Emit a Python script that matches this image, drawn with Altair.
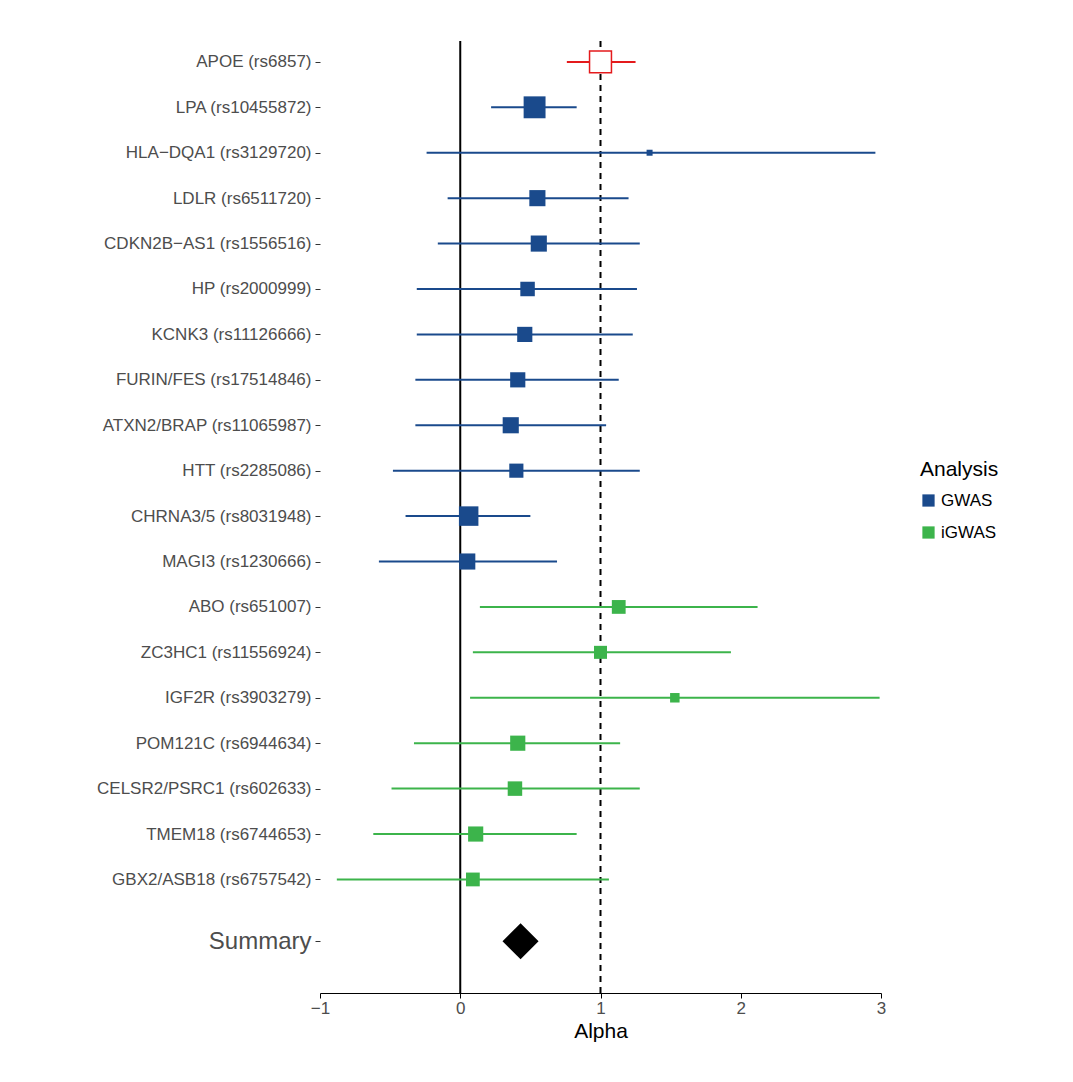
import pandas as pd
import altair as alt

genes = ["APOE (rs6857)", "LPA (rs10455872)", "HLA\u2212DQA1 (rs3129720)", "LDLR (rs6511720)",
         "CDKN2B\u2212AS1 (rs1556516)", "HP (rs2000999)", "KCNK3 (rs11126666)", "FURIN/FES (rs17514846)",
         "ATXN2/BRAP (rs11065987)", "HTT (rs2285086)", "CHRNA3/5 (rs8031948)", "MAGI3 (rs1230666)",
         "ABO (rs651007)", "ZC3HC1 (rs11556924)", "IGF2R (rs3903279)", "POM121C (rs6944634)",
         "CELSR2/PSRC1 (rs602633)", "TMEM18 (rs6744653)", "GBX2/ASB18 (rs6757542)"]
alpha = [1.0, 0.53, 1.35, 0.55, 0.56, 0.48, 0.46, 0.41, 0.36, 0.40, 0.06, 0.05,
         1.13, 1.0, 1.53, 0.41, 0.39, 0.11, 0.09]
lo = [0.76, 0.22, -0.24, -0.09, -0.16, -0.31, -0.31, -0.32, -0.32, -0.48, -0.39, -0.58,
      0.14, 0.09, 0.07, -0.33, -0.49, -0.62, -0.88]
hi = [1.25, 0.83, 2.96, 1.20, 1.28, 1.26, 1.23, 1.13, 1.04, 1.28, 0.50, 0.69,
      2.12, 1.93, 2.99, 1.14, 1.28, 0.83, 1.06]
weight = [480, 480, 36, 260, 260, 210, 230, 230, 260, 200, 380, 260,
          190, 170, 90, 230, 210, 230, 190]
analysis = ["APOE"] + ["GWAS"] * 11 + ["iGWAS"] * 7
summary_alpha = 0.43
summary_pos = 20.36

rows = list(range(1, len(genes) + 1))
df = pd.DataFrame({"row": rows, "gene": genes, "alpha": alpha, "lo": lo, "hi": hi,
                   "w": weight, "Analysis": analysis})
main = df[df.Analysis != "APOE"]
apoe = df[df.Analysis == "APOE"]

label_map = {str(r): g for r, g in zip(rows, genes)}
label_map[str(summary_pos)] = "Summary"
label_expr = "{" + ",".join(f"'{k}':'{v}'" for k, v in label_map.items()) + "}[toString(datum.value)]"

xs = alt.Scale(domain=[-1, 3], nice=False)
ys = alt.Scale(domain=[0.54, 21.5], reverse=True, nice=False, zero=False)
colors = alt.Scale(domain=["GWAS", "iGWAS"], range=["#1a4a8c", "#3cb44b"])

yaxis = alt.Axis(values=rows + [summary_pos], labelExpr=label_expr, title=None, grid=False,
                 domain=False, tickColor="#333", labelColor="#4d4d4d", labelPadding=4,
                 labelFontSize={"expr": "datum.value > 20 ? 24 : 17"}, labelLimit=400)
xaxis = alt.Axis(values=[-1, 0, 1, 2, 3], title="Alpha", grid=False, domainColor="black",
                 tickColor="black", labelColor="#4d4d4d", labelFontSize=17, titleFontSize=21,
                 titleFontWeight="normal", titleColor="black", format="d", labelFlush=False,
                 labelExpr="datum.value < 0 ? '\u2212' + abs(datum.value) : datum.value")

base = alt.Chart(main)
bars = base.mark_rule(strokeWidth=2).encode(
    x=alt.X("lo:Q", scale=xs, axis=xaxis), x2="hi:Q",
    y=alt.Y("row:Q", scale=ys, axis=yaxis),
    color=alt.Color("Analysis:N", scale=colors,
                    legend=alt.Legend(title="Analysis", titleFontSize=21, titleFontWeight="normal",
                                      labelFontSize=17, symbolSize=150, symbolType="square",
                                      titleColor="black", labelColor="black", rowPadding=14,
                                      symbolOpacity=1, symbolStrokeWidth=0, titlePadding=12,
                                      orient="none", legendX=600, legendY=418)))
pts = base.mark_square(opacity=1).encode(
    x="alpha:Q", y="row:Q",
    color=alt.Color("Analysis:N", scale=colors),
    size=alt.Size("w:Q", scale=None, legend=None))

ab = alt.Chart(apoe)
apoe_bar = ab.mark_rule(strokeWidth=2, color="#e41a1c").encode(x="lo:Q", x2="hi:Q", y="row:Q")
apoe_pt = ab.mark_square(fill="white", stroke="#e41a1c", strokeWidth=1.5, opacity=1, size=480).encode(
    x="alpha:Q", y="row:Q")

sdf = pd.DataFrame({"alpha": [summary_alpha], "row": [summary_pos]})
diamond = alt.Chart(sdf).mark_point(shape="diamond", filled=True, color="black", opacity=1,
                                    size=1300).encode(x="alpha:Q", y="row:Q")

vdf = pd.DataFrame({"v": [0, 1]})
vzero = alt.Chart(vdf[vdf.v == 0]).mark_rule(color="black", strokeWidth=2).encode(x="v:Q")
vone = alt.Chart(vdf[vdf.v == 1]).mark_rule(color="black", strokeWidth=2,
                                            strokeDash=[6, 5]).encode(x="v:Q")

chart = (vzero + vone + bars + apoe_bar + pts + apoe_pt + diamond).properties(
    width=561, height=952, padding={"top": 32, "left": 88, "right": 5, "bottom": 5}
).configure_view(stroke=None).configure_axis(labelFont="Arial", titleFont="Arial"
).configure_legend(labelFont="Arial", titleFont="Arial", padding=0)

chart.save("out.html", embed_options={"renderer": "svg", "actions": False})
